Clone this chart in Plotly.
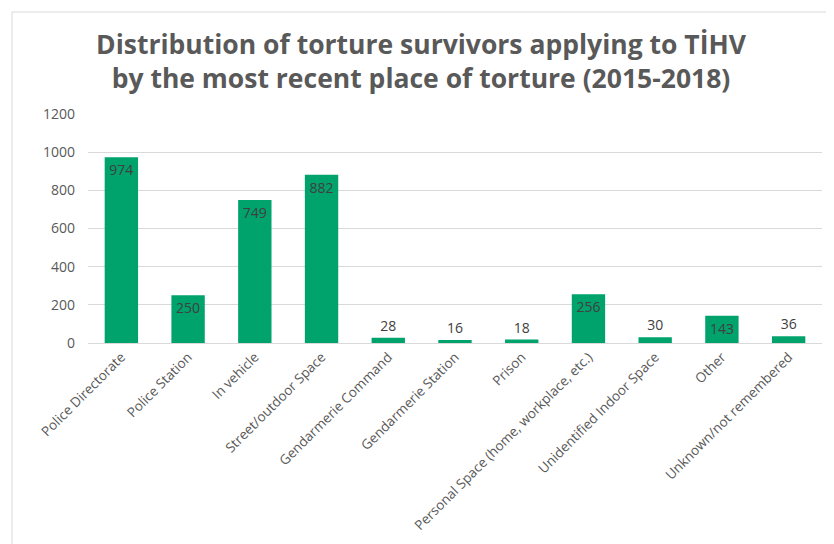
import plotly.graph_objects as go

categories = ["Police Directorate", "Police Station", "In vehicle", "Street/outdoor Space",
              "Gendarmerie Command", "Gendarmerie Station", "Prison",
              "Personal Space (home, workplace, etc.)", "Unidentified Indoor Space",
              "Other", "Unknown/not remembered"]
values = [974, 250, 749, 882, 28, 16, 18, 256, 30, 143, 36]
y_ticks = [0, 200, 400, 600, 800, 1000, 1200]

W, H = 826, 536
ml, mr, mt, mb = 80, 12, 106, 201

positions = ["inside" if v > 100 else "outside" for v in values]
lab_font = dict(family="Open Sans", size=14, color="#404040")

fig = go.Figure(go.Bar(
    x=categories, y=values,
    marker=dict(color="#00A36C", line=dict(width=0)),
    text=[str(v) for v in values],
    textposition=positions,
    insidetextanchor="end",
    textfont=lab_font,
    outsidetextfont=lab_font,
    insidetextfont=lab_font,
    cliponaxis=False,
    textangle=0,
))

pw = W - ml - mr
ph = H - mt - mb

fig.update_layout(
    width=W, height=H,
    margin=dict(l=ml, r=mr, t=mt, b=mb),
    paper_bgcolor="white", plot_bgcolor="white",
    bargap=0.5,
    showlegend=False,
    uniformtext=dict(minsize=14, mode="show"),
    title=dict(
        text="<b>Distribution of torture survivors applying to TİHV<br>by the most recent place of torture (2015-2018)</b>",
        x=0.5, xanchor="center", y=(H - 46) / H, yanchor="middle",
        font=dict(family="Open Sans", size=26.5, color="#595959"),
    ),
    xaxis=dict(
        tickangle=-45, automargin=False,
        tickfont=dict(family="Open Sans", size=13.5, color="#595959"),
        showline=True, linecolor="#d9d9d9", ticks="",
    ),
    yaxis=dict(
        range=[0, 1200], tickvals=y_ticks, automargin=False,
        tickfont=dict(family="Open Sans", size=14, color="#595959"),
        showgrid=True, gridcolor="#d9d9d9", zeroline=False,
        ticks="", ticklen=0, ticklabelstandoff=12,
    ),
    shapes=[dict(
        type="rect", xref="paper", yref="paper",
        x0=(4 - ml) / pw, x1=(W + 10 - ml) / pw,
        y0=-(mb + 10) / ph, y1=(H - 4 - mb) / ph,
        line=dict(color="#d9d9d9", width=1), fillcolor="rgba(0,0,0,0)", layer="below",
    )],
)

fig.write_html("out.html")
